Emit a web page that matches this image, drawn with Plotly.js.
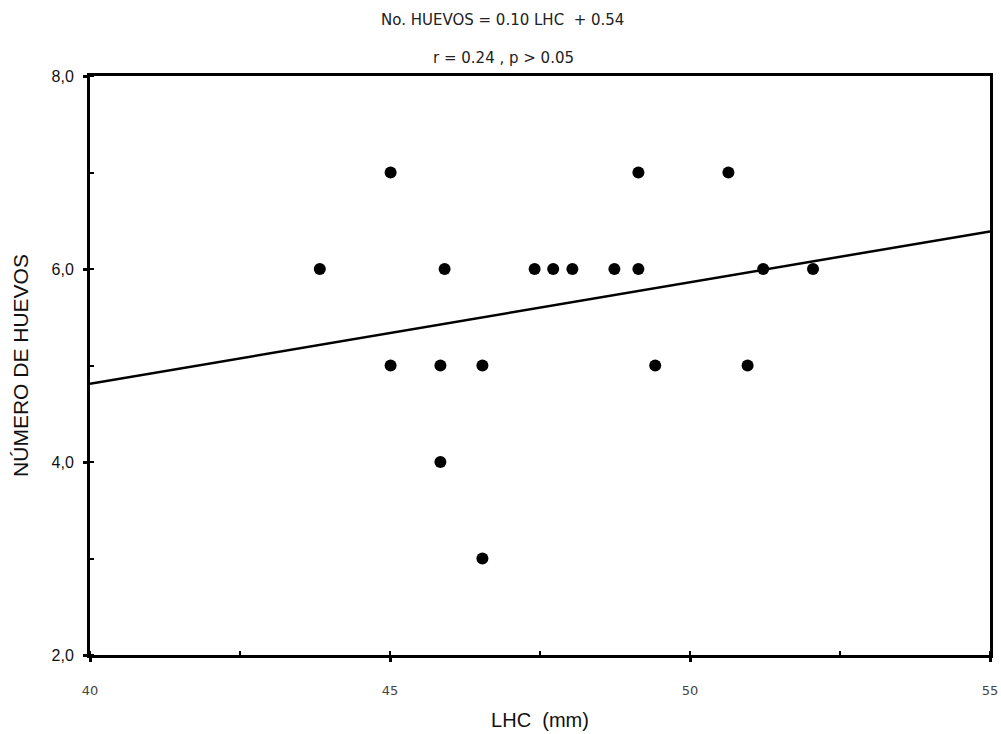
<!DOCTYPE html>
<html>
<head>
<meta charset="utf-8">
<script src="https://cdn.plot.ly/plotly-3.0.1.min.js"></script>
<style>html,body{margin:0;padding:0;background:#fff;}#chart{width:1001px;height:734px;}</style>
</head>
<body>
<div id="chart"></div>
<script>
// Data
const lhc = [43.83, 45.01, 45.01, 45.84, 45.84, 45.91, 46.54, 46.54, 47.41, 47.72, 48.04, 48.74, 49.14, 49.14, 49.42, 50.64, 50.96, 51.22, 52.05];
const huevos = [6, 7, 5, 5, 4, 6, 5, 3, 6, 6, 6, 6, 7, 6, 5, 7, 5, 6, 6];
const fitX = [40, 55];
const fitY = [4.81, 6.39];
const titleLine1 = "No. HUEVOS = 0.10 LHC  + 0.54";
const titleLine2 = "r = 0.24 , p > 0.05";
const xTitle = "LHC  (mm)";
const yTitle = "NÚMERO DE HUEVOS";

const traces = [
  {x: fitX, y: fitY, mode: 'lines', type: 'scatter', line: {color: '#000', width: 2.5}, hoverinfo: 'skip'},
  {x: lhc, y: huevos, mode: 'markers', type: 'scatter', marker: {color: '#000', size: 12}}
];

const titleFont = {family: 'DejaVu Sans, sans-serif', size: 15, color: '#222'};

const layout = {
  width: 1001, height: 734,
  margin: {l: 90, r: 11, t: 76, b: 79},
  paper_bgcolor: '#fff', plot_bgcolor: '#fff',
  showlegend: false,
  separators: ',.',
  font: {family: 'Liberation Sans, Arial, sans-serif', color: '#000'},
  xaxis: {
    range: [40, 55], dtick: 5, tick0: 40,
    showgrid: false, zeroline: false,
    showline: true, linecolor: '#000', linewidth: 3, mirror: true,
    ticks: 'outside', ticklen: 4, tickwidth: 3, tickcolor: '#000',
    ticklabelstandoff: 17,
    tickfont: {family: 'DejaVu Sans, sans-serif', size: 13, color: '#444'},
    minor: {dtick: 2.5, ticks: 'inside', ticklen: 4, tickwidth: 2, tickcolor: '#000'},
    title: {text: xTitle, font: {size: 20, color: '#111', family: 'Liberation Sans, Arial, sans-serif'}, standoff: 17}
  },
  yaxis: {
    range: [2, 8], dtick: 2, tick0: 2, tickformat: '.1f',
    showgrid: false, zeroline: false,
    showline: true, linecolor: '#000', linewidth: 3, mirror: true,
    ticks: 'outside', ticklen: 4, tickwidth: 3, tickcolor: '#000',
    ticklabelstandoff: 6,
    tickfont: {family: 'Liberation Sans, Arial, sans-serif', size: 16, color: '#111'},
    minor: {dtick: 1, ticks: 'inside', ticklen: 4, tickwidth: 2, tickcolor: '#000'},
    title: {text: yTitle, font: {size: 21, color: '#111', family: 'Liberation Sans, Arial, sans-serif'}, standoff: 18}
  },
  annotations: [
    {text: titleLine1, xref: 'paper', yref: 'paper', x: 0.4578, xanchor: 'center', y: 1.0967, yanchor: 'middle', showarrow: false, font: titleFont},
    {text: titleLine2, xref: 'paper', yref: 'paper', x: 0.4589, xanchor: 'center', y: 1.0311, yanchor: 'middle', showarrow: false, font: titleFont}
  ]
};

Plotly.newPlot('chart', traces, layout, {displayModeBar: false, staticPlot: true});
</script>
</body>
</html>
